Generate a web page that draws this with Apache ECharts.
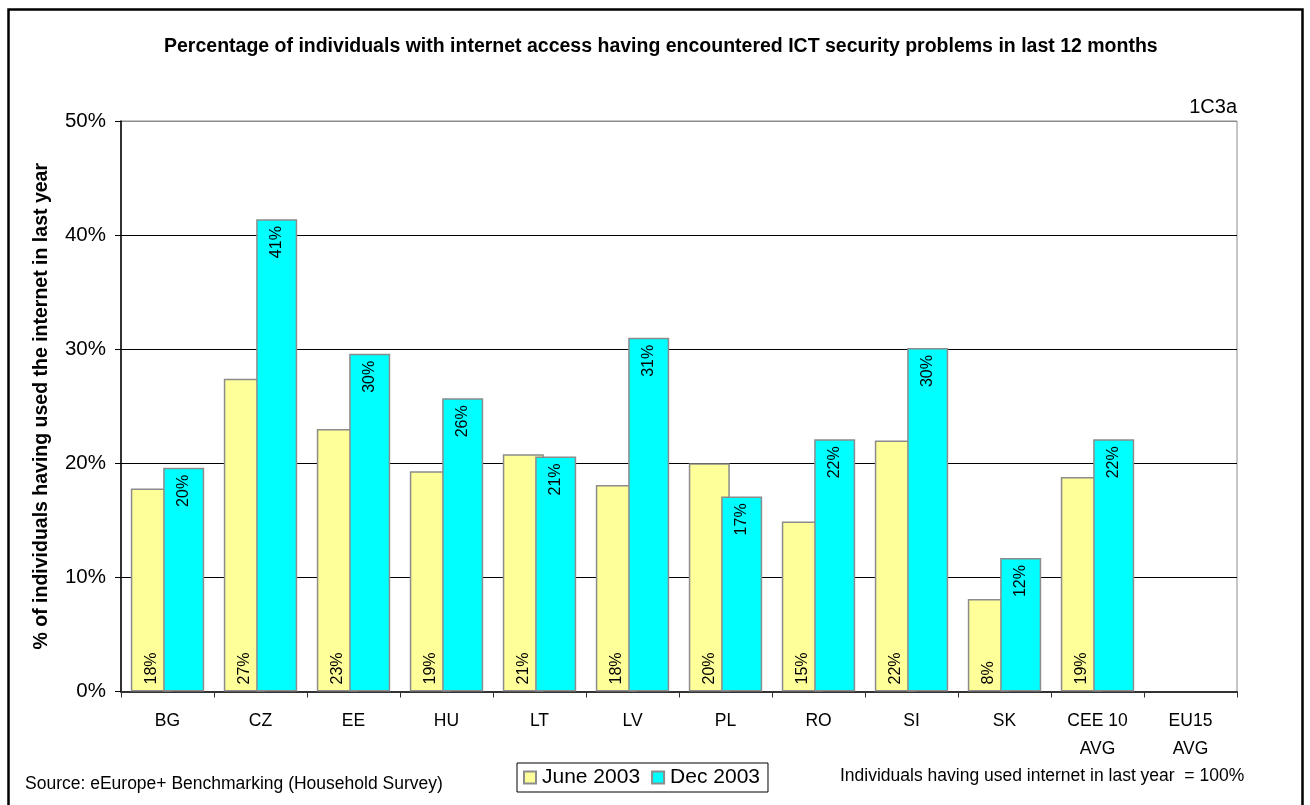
<!DOCTYPE html>
<html>
<head>
<meta charset="utf-8">
<title>ICT security problems</title>
<script src="https://cdn.jsdelivr.net/npm/echarts@6/dist/echarts.min.js"></script>
<style>
  html, body { margin: 0; padding: 0; background: #fff; }
  #chart { width: 1310px; height: 805px; }
</style>
</head>
<body>
<div id="chart"></div>
<script>
// Countries / aggregates on the category axis
const categories = ['BG', 'CZ', 'EE', 'HU', 'LT', 'LV', 'PL', 'RO', 'SI', 'SK', 'CEE 10\nAVG', 'EU15\nAVG'];
// Share of internet users who met ICT security problems (%)
const june2003 = [17.8, 27.4, 23.0, 19.3, 20.8, 18.1, 20.0, 14.9, 22.0, 8.1, 18.8, null];
const dec2003  = [19.6, 41.4, 29.6, 25.7, 20.6, 31.0, 17.1, 22.1, 30.1, 11.7, 22.1, null];
const seriesNames = ['June 2003', 'Dec 2003'];
const yTicks = { min: 0, max: 50, interval: 10 };

const FONT = '"Liberation Sans", Arial, sans-serif';

const chart = echarts.init(document.getElementById('chart'), null, { renderer: 'canvas' });

const pctLabel = p => Math.round(p.value) + '%';

chart.setOption({
  backgroundColor: '#fff',
  animation: false,
  textStyle: { fontFamily: FONT, color: '#000' },
  title: [
    {
      text: 'Percentage of individuals with internet access having encountered ICT security problems in last 12 months',
      left: 164, top: 37, padding: 0,
      textStyle: { fontFamily: FONT, fontSize: 19.5, fontWeight: 'bold', color: '#000' }
    },
    {
      text: '1C3a', right: 73, top: 97, padding: 0,
      textStyle: { fontFamily: FONT, fontSize: 20, fontWeight: 'normal', color: '#000' }
    },
    {
      text: 'Source: eEurope+ Benchmarking (Household Survey)', left: 25, top: 775, padding: 0,
      textStyle: { fontFamily: FONT, fontSize: 17.5, fontWeight: 'normal', color: '#000' }
    },
    {
      text: 'Individuals having used internet in last year  = 100%', left: 840, top: 767, padding: 0,
      textStyle: { fontFamily: FONT, fontSize: 17.5, fontWeight: 'normal', color: '#000' }
    }
  ],
  legend: {
    data: seriesNames,
    left: 517, top: 763,
    orient: 'horizontal',
    icon: 'rect',
    itemWidth: 12, itemHeight: 12, itemGap: 11,
    padding: [4, 8, 4, 6],
    borderColor: '#000', borderWidth: 1,
    textStyle: { fontFamily: FONT, fontSize: 21, color: '#000', padding: [0, 0, 0, 1] }
  },
  graphic: [
    {
      type: 'rect', silent: true, z: 100,
      shape: { x: 8.5, y: 9.5, width: 1294, height: 810 },
      style: { fill: 'none', stroke: '#000', lineWidth: 2.5 }
    }
  ],
  grid: {
    left: 121, top: 121, right: 73, bottom: 113.5,
    show: true, borderColor: '#8c8c8c', borderWidth: 1, backgroundColor: 'transparent'
  },
  xAxis: {
    type: 'category',
    data: categories,
    axisLine: { lineStyle: { color: '#333', width: 2 } },
    axisTick: { show: true, length: 6, lineStyle: { color: '#333', width: 1 } },
    axisLabel: { fontFamily: FONT, fontSize: 17.5, color: '#000', margin: 16, lineHeight: 28, interval: 0 }
  },
  yAxis: {
    type: 'value',
    min: yTicks.min, max: yTicks.max, interval: yTicks.interval,
    name: '% of individuals having used the internet in last year',
    nameLocation: 'middle', nameRotate: 90, nameGap: 69,
    nameTextStyle: { fontFamily: FONT, fontSize: 19.5, fontWeight: 'bold', color: '#000' },
    axisLine: { show: true, lineStyle: { color: '#000', width: 1.5 } },
    axisTick: { show: true, length: 6, lineStyle: { color: '#000', width: 1 } },
    axisLabel: { fontFamily: FONT, fontSize: 20.5, color: '#000', margin: 15, formatter: v => v + '%' },
    splitLine: { show: true, lineStyle: { color: ['#000', '#000', '#000', '#000', '#000', '#8c8c8c'], width: 1 } }
  },
  series: [
    {
      name: seriesNames[0],
      type: 'bar',
      data: june2003,
      barWidth: 41,
      barGap: '-21%',
      itemStyle: { color: '#FFFF99', borderColor: '#8c8c8c', borderWidth: 1.5 },
      label: {
        show: true, position: 'insideBottom', rotate: 90, distance: 7,
        align: 'left', verticalAlign: 'middle',
        fontFamily: FONT, fontSize: 16, color: '#000',
        formatter: pctLabel
      }
    },
    {
      name: seriesNames[1],
      type: 'bar',
      data: dec2003,
      barWidth: 41,
      barGap: '-21%',
      itemStyle: { color: '#00FFFF', borderColor: '#8c8c8c', borderWidth: 1.5 },
      label: {
        show: true, position: 'insideTop', rotate: 90, distance: 7,
        align: 'right', verticalAlign: 'middle',
        fontFamily: FONT, fontSize: 16, color: '#000',
        formatter: pctLabel
      }
    }
  ]
});
</script>
</body>
</html>
